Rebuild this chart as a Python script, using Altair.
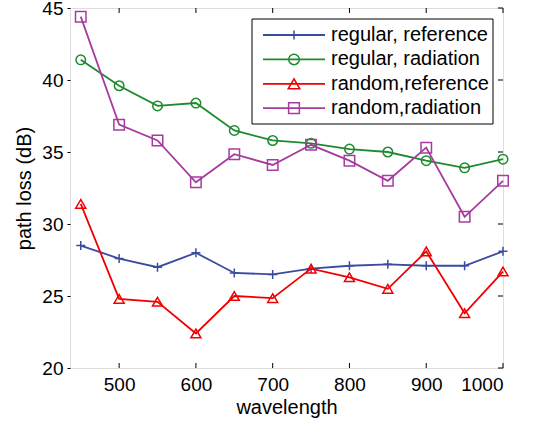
import altair as alt
import pandas as pd

# ---- data ----
wavelength = [450, 500, 550, 600, 650, 700, 750, 800, 850, 900, 950, 1000]
regular_reference = [28.5, 27.6, 27.0, 28.0, 26.6, 26.5, 26.9, 27.1, 27.2, 27.1, 27.1, 28.1]
regular_radiation = [41.4, 39.6, 38.2, 38.4, 36.5, 35.8, 35.6, 35.2, 35.0, 34.4, 33.9, 34.5]
random_reference = [31.4, 24.8, 24.6, 22.4, 25.0, 24.85, 26.9, 26.3, 25.5, 28.1, 23.8, 26.7]
random_radiation = [44.4, 36.9, 35.8, 32.9, 34.85, 34.1, 35.5, 34.4, 33.0, 35.3, 30.5, 33.0]

series_names = ["regular, reference", "regular, radiation", "random,reference", "random,radiation"]
series_colors = ["#3a4ca0", "#1e8a2e", "#f00000", "#a63ba0"]
plus_path = "M-1,0H1M0,-1V1"
series_shapes = [plus_path, "circle", "triangle-up", "square"]
series_sizes = [81, 110, 135, 115]

x_ticks = [500, 600, 700, 800, 900, 1000]
y_ticks = [20, 25, 30, 35, 40, 45]

rows = []
for name, vals in zip(series_names, [regular_reference, regular_radiation, random_reference, random_radiation]):
    for w, v in zip(wavelength, vals):
        rows.append({"wavelength": w, "loss": v, "series": name})
df = pd.DataFrame(rows)

W, H = 433, 360
FONT = "Liberation Sans"

xscale = alt.Scale(domain=[436, 1000], nice=False, zero=False)
yscale = alt.Scale(domain=[20, 45], nice=False, zero=False)
cscale = alt.Scale(domain=series_names, range=series_colors)

x_axis = alt.Axis(values=x_ticks, format="d", ticks=False, tickSize=0, domain=False, grid=False,
                  labelFontSize=19, labelPadding=7, labelColor="black", labelFont=FONT,
                  title="wavelength", titleFontSize=20, titleFontWeight="normal", titleFont=FONT,
                  titleColor="black", titlePadding=3)
y_axis = alt.Axis(values=y_ticks, format="d", ticks=True, tickSize=3, tickColor="black", domain=False,
                  grid=False, labelFontSize=19, labelPadding=4, labelColor="black", labelFont=FONT,
                  title="path loss (dB)", titleFontSize=20, titleFontWeight="normal", titleFont=FONT,
                  titleColor="black", titlePadding=7)

base = alt.Chart(df).encode(
    x=alt.X("wavelength:Q", scale=xscale, axis=x_axis),
    y=alt.Y("loss:Q", scale=yscale, axis=y_axis),
    color=alt.Color("series:N", scale=cscale, legend=None),
    order=alt.Order("wavelength:Q"),
)

layers = []
for name in series_names:
    sub = base.transform_filter(alt.datum.series == name)
    layers.append(sub.mark_line(strokeWidth=1.8))
    layers.append(
        sub.mark_point(filled=False, strokeWidth=1.5, opacity=1).encode(
            shape=alt.Shape("series:N", scale=alt.Scale(domain=series_names, range=series_shapes), legend=None),
            size=alt.Size("series:N", scale=alt.Scale(domain=series_names, range=series_sizes), legend=None),
        )
    )

# inward ticks on bottom, top and right
xt = pd.DataFrame({"wavelength": x_ticks})
yt = pd.DataFrame({"loss": y_ticks})
layers.append(alt.Chart(xt).mark_rule(color="black", strokeWidth=1).encode(
    x=alt.X("wavelength:Q", scale=xscale, axis=x_axis), y=alt.value(H), y2=alt.value(H - 5)))
layers.append(alt.Chart(xt).mark_rule(color="black", strokeWidth=1).encode(
    x=alt.X("wavelength:Q", scale=xscale, axis=x_axis), y=alt.value(0), y2=alt.value(5)))
layers.append(alt.Chart(yt).mark_rule(color="black", strokeWidth=1).encode(
    y=alt.Y("loss:Q", scale=yscale, axis=y_axis), x=alt.value(W), x2=alt.value(W - 5)))

# legend box
box = pd.DataFrame({"k": [0]})
layers.append(alt.Chart(box).mark_rect(fill="white", stroke="black", strokeWidth=1).encode(
    x=alt.value(182), x2=alt.value(423), y=alt.value(11), y2=alt.value(116)))
for i, (name, col, shp, sz) in enumerate(zip(series_names, series_colors, series_shapes, series_sizes)):
    ly = 27 + i * 24.4
    d = pd.DataFrame({"series": [name]})
    layers.append(alt.Chart(d).mark_rule(color=col, strokeWidth=1.8).encode(
        x=alt.value(193), x2=alt.value(255), y=alt.value(ly)))
    layers.append(alt.Chart(d).mark_point(shape=shp, filled=False, color=col, strokeWidth=1.5,
                                          size=sz, opacity=1).encode(
        x=alt.value(224), y=alt.value(ly)))
    layers.append(alt.Chart(d).mark_text(align="left", baseline="middle", fontSize=20, font=FONT,
                                         color="black").encode(
        x=alt.value(261), y=alt.value(ly), text=alt.Text("series:N")))

chart = alt.layer(*layers).properties(
    width=W, height=H,
    autosize=alt.AutoSizeParams(type="none"),
    padding={"left": 70, "top": 8, "right": 37, "bottom": 56},
).configure_view(stroke="black", strokeWidth=1.5).configure(background="white")

chart.save("out.html", embed_options={"renderer": "svg", "actions": False})
